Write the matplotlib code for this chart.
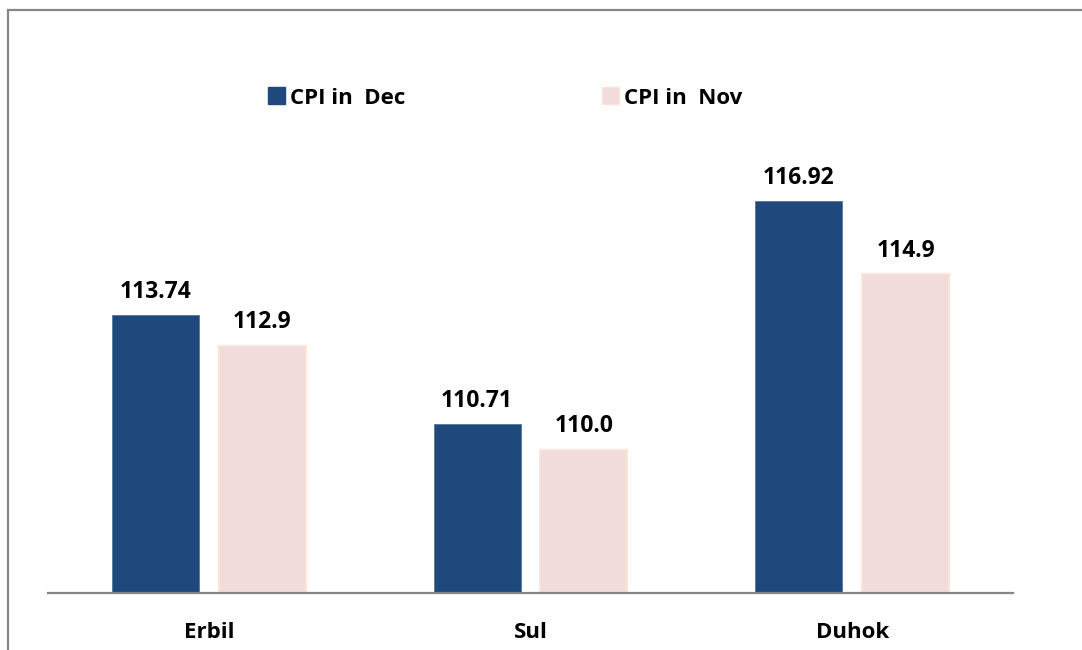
import matplotlib
matplotlib.use("Agg")
import matplotlib.pyplot as plt
import numpy as np
from matplotlib.patches import Rectangle, Patch

categories = ["Erbil", "Sul", "Duhok"]
cpi_dec = [113.74, 110.71, 116.92]
cpi_nov = [112.9, 110.0, 114.9]
dec_labels = ["113.74", "110.71", "116.92"]
nov_labels = ["112.9", "110.0", "114.9"]
series_names = ["CPI in  Dec", "CPI in  Nov"]

plt.rcParams['font.family'] = ['Open Sans', 'DejaVu Sans']

W, H = 1082, 650
fig = plt.figure(figsize=(W / 100, H / 100), dpi=100)
ax = fig.add_axes([48 / W, 57 / H, (1013 - 48) / W, (593 - 55) / H])

dec_color = "#1F497D"
nov_color = "#F2DCDB"
nov_edge = "#FCE4D6"

x = np.arange(len(categories))
bw = 0.271
off = 0.166
b1 = ax.bar(x - off, cpi_dec, bw, color=dec_color, edgecolor="#4a6a94", linewidth=0.5, zorder=2)
b2 = ax.bar(x + off, cpi_nov, bw, color=nov_color, edgecolor=nov_edge, linewidth=1.5, zorder=2)

ax.set_ylim(106, 121)
ax.set_xlim(-0.5, 2.5)

fs = 16.5
for rect, lab in zip(b1, dec_labels):
    ax.annotate(lab, (rect.get_x() + rect.get_width() / 2, rect.get_height()),
                xytext=(0, 8), textcoords="offset points", ha="center", va="bottom",
                fontsize=fs, fontweight="bold", color="black")
for rect, lab in zip(b2, nov_labels):
    ax.annotate(lab, (rect.get_x() + rect.get_width() / 2, rect.get_height()),
                xytext=(0, 8), textcoords="offset points", ha="center", va="bottom",
                fontsize=fs, fontweight="bold", color="black")

for s in ["top", "right", "left"]:
    ax.spines[s].set_visible(False)
ax.spines["bottom"].set_color("#868686")
ax.spines["bottom"].set_linewidth(1.6)
ax.set_yticks([])
ax.set_xticks(x)
ax.set_xticklabels(categories, fontsize=16, fontweight="bold")
ax.tick_params(axis="x", length=0, pad=21)
ax.patch.set_alpha(0)

handles = [Patch(facecolor=dec_color, edgecolor=dec_color),
           Patch(facecolor=nov_color, edgecolor=nov_edge)]
leg = fig.legend(handles, series_names, loc="center left",
                 bbox_to_anchor=(252 / W, 1 - 98 / H), ncol=2, frameon=False,
                 handlelength=0.78, handleheight=0.78, handletextpad=0.22,
                 columnspacing=8.85, borderpad=0.2, prop={"weight": "bold", "size": 16})

frame = Rectangle((8 / W, -0.1), 1.2, 1 - 10 / H + 0.1, transform=fig.transFigure,
                  fill=False, edgecolor="#868686", linewidth=1.6, clip_on=False)
fig.add_artist(frame)

fig.savefig("out.png", dpi=100)
